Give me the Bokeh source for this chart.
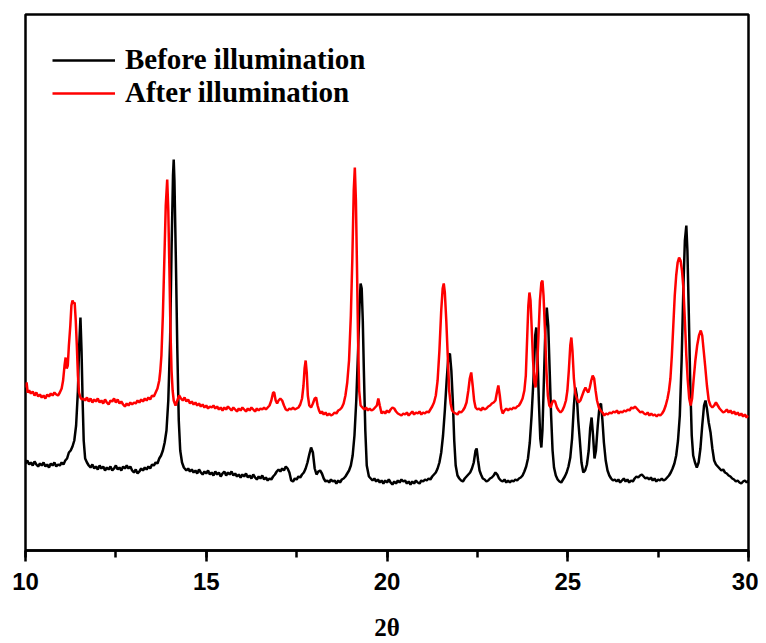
from bokeh.plotting import figure
from bokeh.models import Range1d, SingleIntervalTicker, Legend, LegendItem, ColumnDataSource
from bokeh.embed import file_html
from bokeh.resources import INLINE

# Before illumination (black): (2theta, intensity a.u.)
before_pts = [
    (10.00, 87), (10.05, 90), (10.10, 86), (10.15, 88), (10.20, 85), (10.25, 89), (10.30, 86), (10.35, 84),
    (10.40, 87), (10.45, 85), (10.50, 88), (10.55, 84), (10.60, 86), (10.65, 83), (10.70, 87), (10.75, 85),
    (10.80, 88), (10.85, 84), (10.90, 86), (10.95, 85), (11.00, 88), (11.05, 86), (11.10, 90), (11.15, 92),
    (11.20, 98), (11.25, 100), (11.30, 104), (11.35, 110), (11.40, 125), (11.45, 160), (11.48, 200), (11.52, 233),
    (11.55, 200), (11.58, 150), (11.61, 110), (11.65, 92), (11.70, 88), (11.75, 85), (11.80, 83), (11.85, 86),
    (11.90, 82), (11.95, 84), (12.00, 81), (12.05, 85), (12.10, 82), (12.15, 84), (12.20, 80), (12.25, 83),
    (12.30, 81), (12.35, 84), (12.40, 80), (12.45, 82), (12.50, 85), (12.55, 81), (12.60, 83), (12.65, 80),
    (12.70, 84), (12.75, 82), (12.80, 85), (12.85, 82), (12.90, 84), (12.95, 80), (13.00, 78), (13.05, 81),
    (13.10, 77), (13.15, 79), (13.20, 82), (13.25, 80), (13.30, 83), (13.35, 81), (13.40, 84), (13.45, 82),
    (13.50, 86), (13.55, 85), (13.60, 88), (13.65, 87), (13.70, 92), (13.75, 95), (13.80, 100), (13.85, 108),
    (13.90, 120), (13.95, 150), (14.00, 210), (14.04, 300), (14.08, 375), (14.10, 391), (14.12, 370), (14.16, 290),
    (14.20, 200), (14.24, 130), (14.28, 100), (14.33, 88), (14.38, 83), (14.45, 80), (14.50, 82), (14.55, 79),
    (14.60, 81), (14.65, 78), (14.70, 80), (14.75, 77), (14.80, 81), (14.85, 78), (14.90, 76), (14.95, 79),
    (15.00, 77), (15.05, 80), (15.10, 76), (15.15, 78), (15.20, 75), (15.25, 79), (15.30, 76), (15.35, 78),
    (15.40, 74), (15.45, 77), (15.50, 79), (15.55, 75), (15.60, 78), (15.65, 76), (15.70, 79), (15.75, 75),
    (15.80, 77), (15.85, 74), (15.90, 76), (15.95, 73), (16.00, 76), (16.05, 74), (16.10, 77), (16.15, 73),
    (16.20, 75), (16.25, 72), (16.30, 76), (16.35, 73), (16.40, 71), (16.45, 74), (16.50, 72), (16.55, 75),
    (16.60, 71), (16.65, 73), (16.70, 70), (16.75, 72), (16.80, 71), (16.85, 74), (16.90, 76), (16.95, 79),
    (17.00, 81), (17.05, 79), (17.10, 82), (17.15, 80), (17.20, 84), (17.25, 82), (17.30, 78), (17.35, 70),
    (17.40, 69), (17.45, 72), (17.50, 71), (17.55, 74), (17.60, 73), (17.65, 76), (17.70, 78), (17.75, 82),
    (17.80, 88), (17.85, 96), (17.90, 103), (17.95, 98), (18.00, 82), (18.05, 76), (18.10, 79), (18.15, 80),
    (18.20, 77), (18.25, 72), (18.30, 69), (18.35, 70), (18.40, 68), (18.45, 71), (18.50, 69), (18.55, 70),
    (18.60, 67), (18.65, 70), (18.70, 68), (18.75, 71), (18.80, 72), (18.85, 74), (18.90, 77), (18.95, 80),
    (19.00, 85), (19.05, 95), (19.10, 115), (19.15, 150), (19.20, 200), (19.24, 245), (19.27, 267), (19.30, 262),
    (19.33, 230), (19.36, 180), (19.40, 120), (19.44, 85), (19.50, 74), (19.55, 72), (19.60, 70), (19.65, 72),
    (19.70, 69), (19.75, 71), (19.80, 68), (19.85, 70), (19.90, 67), (19.95, 70), (20.00, 68), (20.05, 71),
    (20.10, 68), (20.15, 66), (20.20, 69), (20.25, 67), (20.30, 70), (20.35, 68), (20.40, 71), (20.45, 69),
    (20.50, 70), (20.55, 67), (20.60, 69), (20.65, 66), (20.70, 69), (20.75, 67), (20.80, 70), (20.85, 68),
    (20.90, 67), (20.95, 70), (21.00, 69), (21.05, 71), (21.10, 70), (21.15, 72), (21.20, 71), (21.25, 74),
    (21.30, 76), (21.35, 78), (21.40, 82), (21.45, 88), (21.50, 98), (21.55, 115), (21.60, 140), (21.65, 170),
    (21.70, 195), (21.74, 197), (21.78, 180), (21.82, 150), (21.86, 110), (21.90, 85), (21.95, 75), (22.00, 72),
    (22.05, 70), (22.10, 69), (22.15, 72), (22.20, 74), (22.25, 76), (22.30, 78), (22.35, 82), (22.40, 88),
    (22.45, 100), (22.48, 102), (22.52, 90), (22.56, 80), (22.60, 76), (22.65, 72), (22.70, 71), (22.75, 69),
    (22.80, 70), (22.85, 72), (22.90, 73), (22.95, 75), (23.00, 78), (23.05, 76), (23.10, 72), (23.15, 70),
    (23.20, 69), (23.25, 71), (23.30, 68), (23.35, 70), (23.40, 68), (23.45, 70), (23.50, 69), (23.55, 71),
    (23.60, 70), (23.65, 72), (23.70, 73), (23.75, 75), (23.80, 79), (23.85, 84), (23.90, 92), (23.95, 108),
    (24.00, 135), (24.05, 170), (24.10, 215), (24.13, 223), (24.16, 200), (24.20, 150), (24.24, 112), (24.27, 103),
    (24.30, 120), (24.34, 170), (24.38, 220), (24.42, 243), (24.46, 225), (24.50, 180), (24.54, 135), (24.58, 100),
    (24.62, 83), (24.67, 75), (24.72, 71), (24.77, 69), (24.82, 68), (24.87, 71), (24.92, 74), (24.97, 78),
    (25.02, 84), (25.07, 93), (25.12, 112), (25.17, 145), (25.21, 163), (25.25, 155), (25.29, 130), (25.33, 112),
    (25.38, 88), (25.43, 78), (25.48, 80), (25.53, 86), (25.58, 100), (25.62, 122), (25.66, 133), (25.70, 115),
    (25.74, 92), (25.78, 100), (25.83, 125), (25.88, 145), (25.92, 147), (25.96, 130), (26.00, 108), (26.05, 90),
    (26.10, 80), (26.15, 75), (26.20, 72), (26.25, 70), (26.30, 71), (26.35, 69), (26.40, 71), (26.45, 68),
    (26.50, 70), (26.55, 72), (26.60, 69), (26.65, 71), (26.70, 68), (26.75, 70), (26.80, 69), (26.85, 72),
    (26.90, 74), (26.95, 73), (27.00, 75), (27.05, 76), (27.10, 74), (27.15, 72), (27.20, 73), (27.25, 71),
    (27.30, 73), (27.35, 70), (27.40, 72), (27.45, 69), (27.50, 71), (27.55, 70), (27.60, 72), (27.65, 70),
    (27.70, 71), (27.75, 73), (27.80, 75), (27.85, 78), (27.90, 82), (27.95, 87), (28.00, 95), (28.05, 110),
    (28.10, 135), (28.15, 190), (28.20, 265), (28.24, 310), (28.28, 325), (28.31, 300), (28.35, 235), (28.39, 165),
    (28.43, 115), (28.47, 95), (28.52, 88), (28.57, 83), (28.62, 88), (28.67, 102), (28.72, 125), (28.77, 145),
    (28.81, 150), (28.85, 142), (28.90, 128), (28.95, 118), (29.00, 102), (29.05, 90), (29.10, 86), (29.15, 84),
    (29.20, 82), (29.25, 80), (29.30, 81), (29.35, 78), (29.40, 77), (29.45, 75), (29.50, 74), (29.55, 72),
    (29.60, 71), (29.65, 69), (29.70, 70), (29.75, 68), (29.80, 67), (29.85, 69), (29.90, 70), (29.95, 68),
    (30.00, 70),
]

# After illumination (red): (2theta, intensity a.u.)
after_pts = [
    (10.00, 163), (10.03, 168), (10.06, 158), (10.10, 160), (10.15, 157), (10.20, 159), (10.25, 155), (10.30, 158),
    (10.35, 154), (10.40, 156), (10.45, 153), (10.50, 155), (10.55, 152), (10.60, 156), (10.65, 154), (10.70, 157),
    (10.75, 155), (10.80, 158), (10.85, 156), (10.90, 155), (10.95, 158), (11.00, 162), (11.04, 170), (11.08, 185),
    (11.11, 193), (11.14, 182), (11.17, 185), (11.20, 205), (11.24, 225), (11.27, 245), (11.30, 250), (11.33, 247),
    (11.36, 248), (11.39, 230), (11.42, 205), (11.45, 175), (11.48, 158), (11.52, 153), (11.56, 151), (11.60, 152),
    (11.65, 150), (11.70, 153), (11.75, 149), (11.80, 152), (11.85, 148), (11.90, 151), (11.95, 149), (12.00, 152),
    (12.05, 148), (12.10, 150), (12.15, 147), (12.20, 151), (12.25, 148), (12.30, 146), (12.35, 150), (12.40, 149),
    (12.45, 152), (12.50, 148), (12.55, 151), (12.60, 147), (12.65, 149), (12.70, 146), (12.75, 144), (12.80, 147),
    (12.85, 145), (12.90, 148), (12.95, 146), (13.00, 148), (13.05, 147), (13.10, 150), (13.15, 148), (13.20, 151),
    (13.25, 149), (13.30, 152), (13.35, 150), (13.40, 153), (13.45, 151), (13.50, 155), (13.55, 154), (13.60, 158),
    (13.65, 162), (13.70, 170), (13.73, 180), (13.76, 195), (13.80, 235), (13.84, 290), (13.88, 345), (13.92, 371),
    (13.95, 340), (13.98, 283), (14.01, 220), (14.04, 180), (14.07, 160), (14.10, 150), (14.15, 145), (14.20, 150),
    (14.25, 155), (14.30, 152), (14.35, 150), (14.40, 153), (14.45, 149), (14.50, 151), (14.55, 147), (14.60, 149),
    (14.65, 146), (14.70, 148), (14.75, 145), (14.80, 147), (14.85, 144), (14.90, 146), (14.95, 143), (15.00, 145),
    (15.05, 142), (15.10, 144), (15.15, 143), (15.20, 145), (15.25, 142), (15.30, 144), (15.35, 141), (15.40, 143),
    (15.45, 140), (15.50, 143), (15.55, 141), (15.60, 144), (15.65, 142), (15.70, 140), (15.75, 143), (15.80, 141),
    (15.85, 139), (15.90, 142), (15.95, 140), (16.00, 143), (16.05, 141), (16.10, 139), (16.15, 142), (16.20, 140),
    (16.25, 143), (16.30, 141), (16.35, 139), (16.40, 142), (16.45, 140), (16.50, 142), (16.55, 141), (16.60, 143),
    (16.65, 141), (16.70, 143), (16.75, 145), (16.80, 150), (16.85, 158), (16.88, 158), (16.92, 150), (16.96, 147),
    (17.00, 150), (17.05, 152), (17.10, 150), (17.15, 145), (17.20, 141), (17.25, 140), (17.30, 142), (17.35, 141),
    (17.40, 143), (17.45, 141), (17.50, 142), (17.55, 143), (17.60, 146), (17.65, 152), (17.69, 165), (17.72, 182),
    (17.75, 190), (17.78, 178), (17.81, 155), (17.85, 145), (17.90, 143), (17.95, 147), (18.00, 152), (18.04, 153),
    (18.08, 145), (18.12, 140), (18.16, 137), (18.20, 139), (18.25, 136), (18.30, 138), (18.35, 135), (18.40, 137),
    (18.45, 135), (18.50, 136), (18.55, 138), (18.60, 137), (18.65, 140), (18.70, 141), (18.75, 143), (18.80, 147),
    (18.85, 155), (18.90, 168), (18.95, 190), (19.00, 235), (19.04, 290), (19.08, 360), (19.11, 383), (19.14, 350),
    (19.17, 283), (19.20, 210), (19.23, 160), (19.27, 145), (19.32, 143), (19.37, 141), (19.42, 143), (19.47, 140),
    (19.52, 142), (19.57, 140), (19.62, 141), (19.67, 143), (19.72, 145), (19.76, 152), (19.80, 145), (19.85, 137),
    (19.90, 139), (19.95, 137), (20.00, 140), (20.05, 138), (20.10, 141), (20.15, 143), (20.20, 142), (20.25, 139),
    (20.30, 137), (20.35, 136), (20.40, 135), (20.45, 137), (20.50, 136), (20.55, 138), (20.60, 135), (20.65, 137),
    (20.70, 139), (20.75, 136), (20.80, 138), (20.85, 137), (20.90, 139), (20.95, 136), (21.00, 138), (21.05, 137),
    (21.10, 139), (21.15, 138), (21.20, 141), (21.25, 144), (21.30, 148), (21.35, 155), (21.40, 170), (21.45, 200),
    (21.50, 240), (21.54, 262), (21.57, 267), (21.60, 258), (21.64, 230), (21.68, 195), (21.72, 160), (21.76, 147),
    (21.80, 140), (21.85, 138), (21.90, 137), (21.95, 136), (22.00, 139), (22.05, 138), (22.10, 140), (22.15, 143),
    (22.20, 148), (22.25, 160), (22.29, 172), (22.33, 178), (22.37, 165), (22.41, 150), (22.45, 143), (22.50, 141),
    (22.55, 142), (22.60, 140), (22.65, 143), (22.70, 141), (22.75, 142), (22.80, 144), (22.85, 145), (22.90, 147),
    (22.95, 148), (23.00, 150), (23.04, 158), (23.08, 165), (23.12, 155), (23.16, 142), (23.20, 137), (23.25, 140),
    (23.30, 142), (23.35, 140), (23.40, 142), (23.45, 141), (23.50, 143), (23.55, 142), (23.60, 144), (23.65, 145),
    (23.70, 148), (23.75, 152), (23.80, 160), (23.84, 175), (23.88, 215), (23.91, 245), (23.94, 258), (23.97, 250),
    (24.00, 225), (24.04, 190), (24.08, 168), (24.11, 163), (24.15, 180), (24.19, 215), (24.23, 250), (24.27, 268),
    (24.30, 270), (24.33, 255), (24.37, 220), (24.41, 180), (24.45, 155), (24.49, 145), (24.53, 143), (24.57, 148),
    (24.61, 150), (24.65, 149), (24.70, 143), (24.75, 140), (24.80, 138), (24.85, 140), (24.90, 144), (24.95, 150),
    (24.99, 160), (25.03, 180), (25.07, 205), (25.10, 213), (25.13, 200), (25.17, 172), (25.21, 157), (25.25, 152),
    (25.30, 148), (25.35, 150), (25.40, 155), (25.45, 160), (25.49, 163), (25.53, 160), (25.57, 158), (25.61, 163),
    (25.65, 170), (25.69, 175), (25.73, 172), (25.77, 160), (25.81, 150), (25.86, 143), (25.91, 140), (25.96, 138),
    (26.01, 135), (26.06, 137), (26.11, 136), (26.16, 138), (26.21, 137), (26.26, 139), (26.31, 138), (26.36, 140),
    (26.41, 137), (26.46, 139), (26.51, 138), (26.56, 140), (26.61, 139), (26.66, 141), (26.71, 140), (26.76, 143),
    (26.81, 142), (26.86, 144), (26.91, 142), (26.96, 140), (27.01, 138), (27.06, 139), (27.11, 137), (27.16, 136),
    (27.21, 138), (27.26, 135), (27.31, 137), (27.36, 135), (27.41, 136), (27.46, 134), (27.51, 136), (27.56, 135),
    (27.61, 137), (27.66, 140), (27.71, 145), (27.76, 152), (27.80, 160), (27.84, 172), (27.88, 195), (27.92, 225),
    (27.96, 255), (28.00, 275), (28.04, 288), (28.08, 293), (28.12, 290), (28.16, 280), (28.20, 262), (28.24, 230),
    (28.28, 195), (28.32, 170), (28.36, 152), (28.40, 145), (28.44, 152), (28.48, 170), (28.53, 190), (28.58, 205),
    (28.63, 215), (28.68, 220), (28.72, 215), (28.76, 200), (28.80, 185), (28.85, 165), (28.90, 150), (28.95, 145),
    (29.00, 143), (29.05, 145), (29.10, 148), (29.15, 145), (29.20, 142), (29.25, 140), (29.30, 138), (29.35, 139),
    (29.40, 141), (29.45, 138), (29.50, 140), (29.55, 137), (29.60, 139), (29.65, 136), (29.70, 138), (29.75, 135),
    (29.80, 137), (29.85, 134), (29.90, 136), (29.95, 133), (30.00, 135),
]

before_2theta = [t for t, _ in before_pts]
before_int = [v for _, v in before_pts]
after_2theta = [t for t, _ in after_pts]
after_int = [v for _, v in after_pts]

p = figure(width=758, height=643, output_backend="svg", toolbar_location=None,
           x_range=Range1d(10, 30), y_range=Range1d(0, 536),
           min_border_left=25, min_border_right=10, min_border_top=14, min_border_bottom=93)
p.background_fill_color = "white"
p.border_fill_color = "white"
p.grid.visible = False
p.yaxis.visible = False
p.outline_line_color = "black"
p.outline_line_width = 2.5

src_b = ColumnDataSource(dict(x=before_2theta, y=before_int))
src_a = ColumnDataSource(dict(x=after_2theta, y=after_int))
r_b = p.line("x", "y", source=src_b, line_color="black", line_width=2.5)
r_a = p.line("x", "y", source=src_a, line_color="#ff0000", line_width=2.5)

ax = p.xaxis[0]
ax.ticker = SingleIntervalTicker(interval=5, num_minor_ticks=2)
ax.axis_line_width = 2.5
ax.major_tick_line_width = 2.5
ax.minor_tick_line_width = 2.5
ax.major_tick_in = 0
ax.major_tick_out = 11
ax.minor_tick_in = 0
ax.minor_tick_out = 7
ax.major_label_text_font = "Liberation Sans"
ax.major_label_text_font_style = "bold"
ax.major_label_text_font_size = "24px"
ax.major_label_text_color = "black"
ax.major_label_standoff = 11
ax.axis_label = "2θ"
ax.axis_label_text_font = "Liberation Serif"
ax.axis_label_text_font_style = "bold"
ax.axis_label_text_font_size = "25px"
ax.axis_label_text_color = "black"
ax.axis_label_standoff = 21

legend = Legend(items=[LegendItem(label="Before illumination", renderers=[r_b]),
                       LegendItem(label="After illumination", renderers=[r_a])],
                location=(27, 441))
legend.label_text_font = "Liberation Serif"
legend.label_text_font_style = "bold"
legend.label_text_font_size = "29px"
legend.label_text_color = "black"
legend.glyph_width = 63
legend.glyph_height = 32
legend.label_height = 32
legend.spacing = 0
legend.label_standoff = 10
legend.margin = 0
legend.padding = 0
legend.border_line_color = None
legend.background_fill_alpha = 0
p.add_layout(legend)

open("out.html", "w").write(file_html(p, INLINE))
